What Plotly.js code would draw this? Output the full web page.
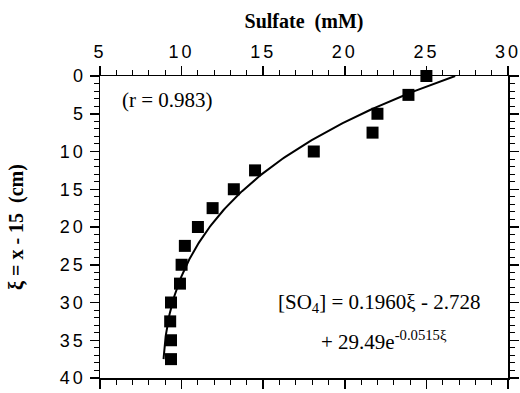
<!DOCTYPE html>
<html>
<head>
<meta charset="utf-8">
<script src="https://cdn.plot.ly/plotly-3.0.1.min.js"></script>
<style>
  html, body { margin: 0; padding: 0; background: #fff; }
  #chart { width: 520px; height: 393px; }
  .xtick text, .ytick text { letter-spacing: 3px; }
</style>
</head>
<body>
<div id="chart"></div>
<script>
// Measured sulfate concentration (mM) at each depth xi = x - 15 (cm)
const depthXi = [0, 2.5, 5, 7.5, 10, 12.5, 15, 17.5, 20, 22.5, 25, 27.5, 30, 32.5, 35, 37.5];
const sulfate = [25.0, 23.9, 22.0, 21.7, 18.1, 14.5, 13.2, 11.9, 11.0, 10.2, 10.0, 9.9, 9.35, 9.3, 9.35, 9.35];

// Fitted profile: [SO4] = slope*xi + intercept + amp*exp(rate*xi)
const fitSlope = 0.1960;
const fitIntercept = -2.728;
const fitAmp = 29.49;
const fitRate = -0.0515;
const fitDepthRange = [0, 37.5];

// Axis ticks
const xTicks = [5, 10, 15, 20, 25, 30];
const yTicks = [0, 5, 10, 15, 20, 25, 30, 35, 40];

const fitXi = [];
for (let d = fitDepthRange[0]; d <= fitDepthRange[1] + 1e-9; d += 0.25) fitXi.push(d);
const fitSO4 = fitXi.map(d => fitSlope * d + fitIntercept + fitAmp * Math.exp(fitRate * d));

const serif = 'Liberation Serif, Times New Roman, serif';
const sans = 'Liberation Sans, Arial, Helvetica, sans-serif';

const traces = [
  {
    x: fitSO4, y: fitXi, type: 'scatter', mode: 'lines',
    line: { color: '#000', width: 2 }, hoverinfo: 'skip', showlegend: false
  },
  {
    x: sulfate, y: depthXi, type: 'scatter', mode: 'markers', cliponaxis: false,
    marker: { symbol: 'square', size: 12, color: '#000' }, showlegend: false
  }
];

const axisCommon = {
  showgrid: false, zeroline: false, showline: true, linecolor: '#000', linewidth: 1.5,
  mirror: 'ticks', ticks: 'outside', ticklen: 9, tickwidth: 1.5, tickcolor: '#000',
  ticklabeloverflow: 'allow',
  tickfont: { family: sans, size: 18, color: '#000' },
  minor: { dtick: 1, ticks: 'outside', ticklen: 5, tickwidth: 1, tickcolor: '#000' }
};

const layout = {
  width: 520, height: 393,
  margin: { l: 100, r: 12, t: 76, b: 15 },
  paper_bgcolor: '#fff', plot_bgcolor: '#fff',
  xaxis: Object.assign({}, axisCommon, {
    side: 'top', range: [5, 30], tickmode: 'array', tickvals: xTicks,
    title: { text: 'Sulfate  (mM)', font: { family: serif, size: 20, color: '#000', weight: 'bold' }, standoff: 8 }
  }),
  yaxis: Object.assign({}, axisCommon, {
    range: [40, 0], tickmode: 'array', tickvals: yTicks,
    title: { text: 'ξ = x - 15  (cm)', font: { family: serif, size: 20, color: '#000', weight: 'bold' }, standoff: 31 }
  }),
  annotations: [
    { xref: 'x', yref: 'y', x: 9.15, y: 3.2, showarrow: false,
      text: '(r = 0.983)', font: { family: serif, size: 21, color: '#000' } },
    { xref: 'x', yref: 'y', x: 22.1, y: 30.1, showarrow: false,
      text: '[SO<sub>4</sub>] = 0.1960ξ - 2.728', font: { family: serif, size: 21, color: '#000' } },
    { xref: 'x', yref: 'y', x: 22.4, y: 35.0, showarrow: false,
      text: '+ 29.49e<sup>-0.0515ξ</sup>', font: { family: serif, size: 21, color: '#000' } }
  ]
};

Plotly.newPlot('chart', traces, layout, { displayModeBar: false, staticPlot: true });
</script>
</body>
</html>
